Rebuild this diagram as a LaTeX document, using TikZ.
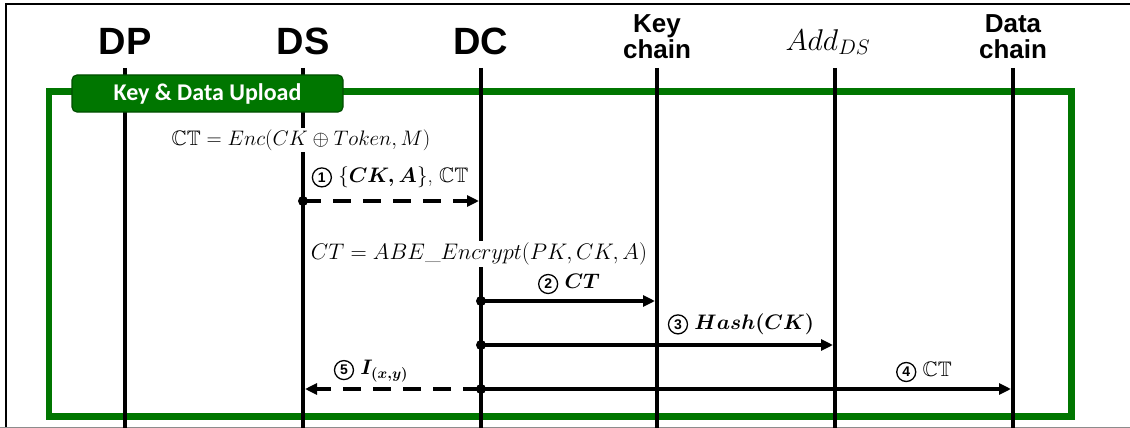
\documentclass[tikz,border=0pt]{standalone}
\usepackage{fix-cm}
\usepackage{amsmath,amssymb}
\usepackage{fontspec}
\newfontfamily\headfont{Liberation Sans}
\newfontfamily\boxfont{Carlito}
\usetikzlibrary{positioning,arrows.meta}
\definecolor{upgreen}{RGB}{0,118,0}
\definecolor{updark}{RGB}{0,78,0}
\newcommand{\circnum}[1]{\tikz[baseline=(cn.base)]\node[circle, draw, line width=1.3pt, inner sep=0pt, minimum size=19pt, font=\headfont\bfseries\fontsize{14}{14}\selectfont] (cn) {#1};}

\begin{document}
\begin{tikzpicture}[x=1pt, y=-1pt, >={Triangle[length=12pt,width=11pt]}]
  \tikzstyle{head}=[font=\headfont\bfseries\fontsize{38}{40}\selectfont, inner sep=0pt]
  \tikzstyle{head2}=[font=\headfont\bfseries\fontsize{26}{26}\selectfont, align=center, inner sep=0pt]
  \tikzstyle{life}=[line width=4pt]
  \tikzstyle{msg}=[line width=3.8pt, shorten >=2pt]
  \tikzstyle{dmsg}=[msg, dash pattern=on 18pt off 12pt]
  \tikzstyle{lbl}=[font=\fontsize{21}{24}\selectfont, inner sep=0pt]
  \tikzstyle{phase}=[rectangle, rounded corners=5pt, draw=updark, line width=1.2pt, fill=upgreen, text=white, font=\boxfont\bfseries\fontsize{24}{26}\selectfont, minimum width=271pt, minimum height=37pt]

  \useasboundingbox (0,0) rectangle (1130,428);
  \draw[line width=1.5pt] (6,428) -- (6,4) -- (1130,4);
  \draw[black!45, line width=1.2pt] (0,427.5) -- (1130,427.5);

  \node[head] (dp) at (125,41.5) {DP};
  \node[head] (ds) at (303,41.5) {DS};
  \node[head] (dc) at (481,41.5) {DC};
  \node[head2] (kc) at (657,37) {Key\\chain};
  \node[lbl, font=\fontsize{30}{32}\selectfont] (add) at (828,42) {$Add_{DS}$};
  \node[head2] (dch) at (1013,37) {Data\\chain};

  \draw[upgreen, line width=6.5pt] (49,91.5) rectangle (1071.5,416.5);

  \foreach \n/\x in {dp/125, ds/303, dc/481, kc/657, add/835, dch/1013}{
    \coordinate (\n-top) at (\x,68);
    \coordinate (\n-bot) at (\x,428);
    \draw[life] (\n-top) -- (\n-bot);
  }

  \node[phase] (upload) at (207.5,93.5) {Key \& Data Upload};

  \node[lbl, fill=white, inner sep=2pt] (enc) at (301,140) {$\mathbb{CT} = Enc(CK\oplus Token, M)$};
  \node[lbl, fill=white, inner sep=2pt, font=\fontsize{22.5}{26}\selectfont] (abe) at (479,254) {$CT = ABE\_Encrypt(PK, CK, A)$};

  \coordinate (m1a) at (303,201);
  \coordinate (m1b) at (481,201);
  \coordinate (m2a) at (481,301);
  \coordinate (m2b) at (657,301);
  \coordinate (m3a) at (481,345);
  \coordinate (m3b) at (835,345);
  \coordinate (m4a) at (481,389);
  \coordinate (m4b) at (1013,389);
  \coordinate (m5b) at (303,389);

  \draw[dmsg, ->] (m1a) -- (m1b);
  \draw[msg, ->] (m2a) -- (m2b);
  \draw[msg, ->] (m3a) -- (m3b);
  \draw[msg, ->] (m4a) -- (m4b);
  \draw[dmsg, ->] (m4a) -- (m5b);
  \foreach \c in {m1a, m2a, m3a, m4a}
    \fill (\c) circle (5pt);

  \node[lbl] (l1) at (390,177) {\circnum{1} $\{\boldsymbol{CK, A}\}$,\ $\mathbb{CT}$};
  \node[lbl] (l2) at (569,284) {\circnum{2} $\boldsymbol{CT}$};
  \node[lbl] (l3) at (741,324) {\circnum{3} $\boldsymbol{Hash(CK)}$};
  \node[lbl] (l4) at (924,372) {\circnum{4} $\mathbb{CT}$};
  \node[lbl] (l5) at (371,371) {\circnum{5} $\boldsymbol{I_{(x,y)}}$};
\end{tikzpicture}
\end{document}
